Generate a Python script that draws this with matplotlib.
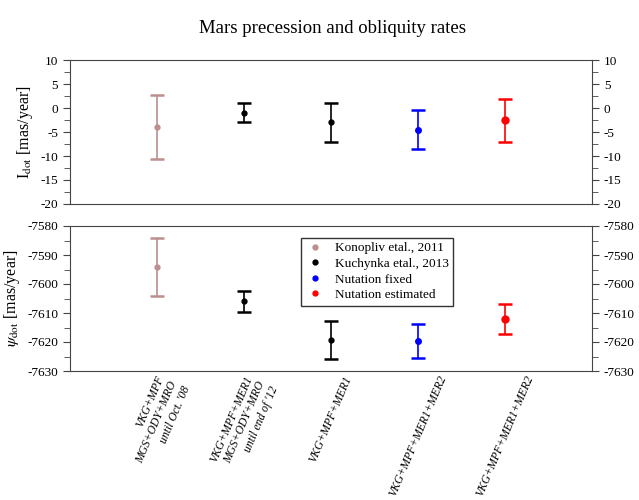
import numpy as np
import matplotlib
matplotlib.use('Agg')
import matplotlib.pyplot as plt
from matplotlib.ticker import MultipleLocator

plt.rcParams['font.family'] = ['Liberation Serif', 'DejaVu Serif']
plt.rcParams['mathtext.fontset'] = 'stix'
plt.rcParams['axes.unicode_minus'] = False

# Daten
positions = [1, 2, 3, 4, 5]
labels = ["VKG+MPF\nMGS+ODY+MRO\nuntil Oct. '08",
          "VKG+MPF+MER1\nMGS+ODY+MRO\nuntil end of '12",
          "VKG+MPF+MER1",
          "VKG+MPF+MER1+MER2",
          "VKG+MPF+MER1+MER2"]
series_names = ["Konopliv etal., 2011", "Kuchynka etal., 2013", "Kuchynka etal., 2013",
                "Nutation fixed", "Nutation estimated"]
colors = ['#bc8f8f', 'black', 'black', 'blue', 'red']

idot = [-4.0, -1.0, -3.0, -4.5, -2.6]
idot_err = [6.7, 2.0, 4.0, 4.1, 4.4]

psidot = [-7594.0, -7606.0, -7619.3, -7619.6, -7612.0]
psidot_err = [10.0, 3.5, 6.5, 5.8, 5.2]

fig = plt.figure(figsize=(6.39, 5.0), dpi=100)
ax1 = fig.add_axes([0.1095, 0.592, 0.817, 0.288])
ax2 = fig.add_axes([0.1095, 0.258, 0.817, 0.290])

msizes = [3.5, 3.5, 3.5, 4, 5]
for ax, vals, errs in [(ax1, idot, idot_err), (ax2, psidot, psidot_err)]:
    for i in range(len(positions)):
        ax.errorbar(positions[i], vals[i], yerr=errs[i], fmt='o', color=colors[i],
                    ms=msizes[i], elinewidth=1.2, capsize=5, capthick=1.8)
    ax.set_xlim(0, 6)
    for s in ax.spines.values():
        s.set_color('#444444')
    ax.tick_params(axis='y', which='both', left=True, right=True, labelright=True,
                   labelsize=9.5, color='#444444', direction='out')
    ax.tick_params(axis='y', which='major', length=5)
    ax.tick_params(axis='y', which='minor', length=4)
    ax.tick_params(axis='x', length=0)

ax1.set_ylim(-20, 10)
ax1.yaxis.set_major_locator(MultipleLocator(5))
ax1.yaxis.set_minor_locator(MultipleLocator(2.5))
ax1.set_xticks([])
ax1.set_ylabel(r'I$_{\rm dot}$ [mas/year]', fontsize=11.5)

ax2.set_ylim(-7630, -7580)
ax2.yaxis.set_major_locator(MultipleLocator(10))
ax2.yaxis.set_minor_locator(MultipleLocator(5))
ax2.set_ylabel(r'$\psi_{\rm dot}$ [mas/year]', fontsize=11.5)
ax2.set_xticks(positions)
ax2.set_xticklabels(labels, rotation=67, ha='center', va='top', multialignment='right',
                    fontstyle='italic', fontsize=8.4, linespacing=1.2)
ax2.tick_params(axis='x', pad=2)

# Legende
handles = []
for name, c in [(series_names[0], colors[0]), (series_names[1], colors[1]),
                (series_names[3], colors[3]), (series_names[4], colors[4])]:
    h, = ax2.plot([], [], 'o', color=c, ms=3.5, label=name)
    handles.append(h)
leg = ax2.legend(handles=handles, loc='upper left', bbox_to_anchor=(0.443, 0.92),
                 fontsize=9.5, frameon=True, fancybox=False, edgecolor='black',
                 borderpad=0.35, labelspacing=0.25, handletextpad=0.8, handlelength=1.4,
                 borderaxespad=0)
leg.get_frame().set_linewidth(1.0)

fig.suptitle('Mars precession and obliquity rates', fontsize=13.5, y=0.96, x=0.52)

fig.savefig('out.png', dpi=100)
